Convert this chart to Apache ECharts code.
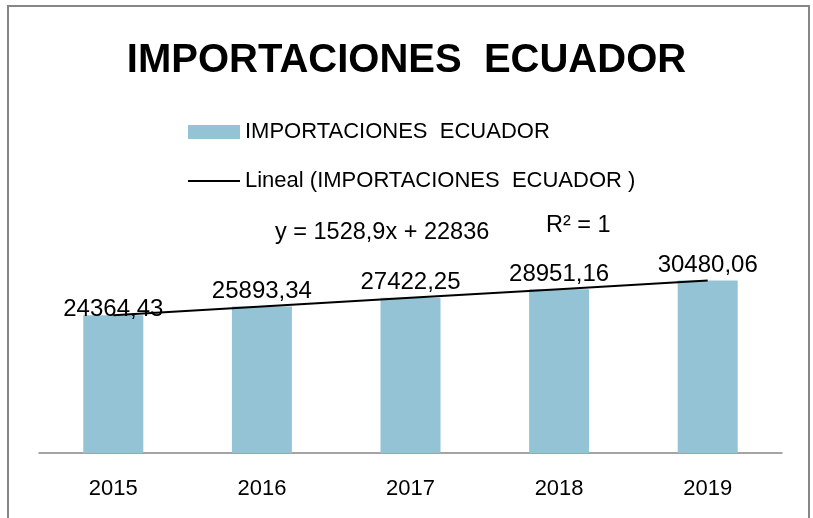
<!DOCTYPE html>
<html>
<head>
<meta charset="utf-8">
<title>Importaciones Ecuador</title>
<script src="https://cdn.jsdelivr.net/npm/echarts@6/dist/echarts.min.js"></script>
<style>
  html, body { margin: 0; padding: 0; background: #fff; }
  #main { width: 813px; height: 518px; }
</style>
</head>
<body>
<div id="main"></div>
<script>
var years = ['2015', '2016', '2017', '2018', '2019'];
var imports = [24364.43, 25893.34, 27422.25, 28951.16, 30480.06];
// linear trend values (y = 1528,9x + 22836)
var trend = [24364.9, 25893.8, 27422.7, 28951.6, 30480.5];

var barName = 'IMPORTACIONES  ECUADOR';
var trendName = 'Lineal (IMPORTACIONES  ECUADOR )';
var font = 'Liberation Sans, Arial, sans-serif';

var myChart = echarts.init(document.getElementById('main'));

// first label sits a bit lower in the original, like Excel put it
var barData = imports.map(function (v, i) {
    return i === 0 ? { value: v, label: { offset: [0, 9] } } : v;
});

myChart.setOption({
    backgroundColor: '#fff',
    animation: false,
    title: {
        text: 'IMPORTACIONES  ECUADOR',
        left: 'center',
        top: 36,
        textStyle: {
            fontFamily: font,
            fontWeight: 'bold',
            fontSize: 40,
            color: '#000'
        }
    },
    legend: {
        orient: 'vertical',
        left: 183,
        top: 116,
        itemWidth: 52,
        itemHeight: 14,
        itemGap: 27,
        textStyle: {
            fontFamily: font,
            fontSize: 22,
            color: '#000'
        },
        data: [
            { name: barName, icon: 'rect' },
            { name: trendName, icon: 'path://M0,0 H52 V2 H0 Z' }
        ]
    },
    graphic: [
        {
            type: 'rect',
            shape: { x: 8, y: 6, width: 801, height: 530 },
            style: { fill: 'none', stroke: '#868686', lineWidth: 2 },
            silent: true
        },
        {
            type: 'text',
            left: 275,
            top: 221,
            style: { text: 'y = 1528,9x + 22836', font: '23.5px ' + font, fill: '#000' }
        },
        {
            type: 'text',
            left: 546,
            top: 214,
            style: { text: 'R² = 1', font: '23.5px ' + font, fill: '#000' }
        }
    ],
    grid: {
        left: 39,
        right: 31,
        top: 255,
        bottom: 65
    },
    xAxis: {
        type: 'category',
        data: years,
        axisLine: { lineStyle: { color: '#868686', width: 1.5 } },
        axisTick: { show: false },
        axisLabel: {
            margin: 25,
            fontFamily: font,
            fontSize: 22,
            color: '#000'
        }
    },
    yAxis: {
        type: 'value',
        min: 0,
        max: 35000,
        show: false,
        splitLine: { show: false }
    },
    series: [
        {
            name: barName,
            type: 'bar',
            barWidth: 60,
            data: barData,
            itemStyle: { color: '#93C3D5' },
            label: {
                show: true,
                position: 'top',
                distance: 3,
                fontFamily: font,
                fontSize: 24,
                color: '#000',
                formatter: function (p) {
                    return p.value.toFixed(2).replace('.', ',');
                }
            }
        },
        {
            name: trendName,
            type: 'line',
            data: trend,
            symbol: 'none',
            z: 5,
            lineStyle: { color: '#000', width: 2 },
            itemStyle: { color: '#000' }
        }
    ]
});
</script>
</body>
</html>
